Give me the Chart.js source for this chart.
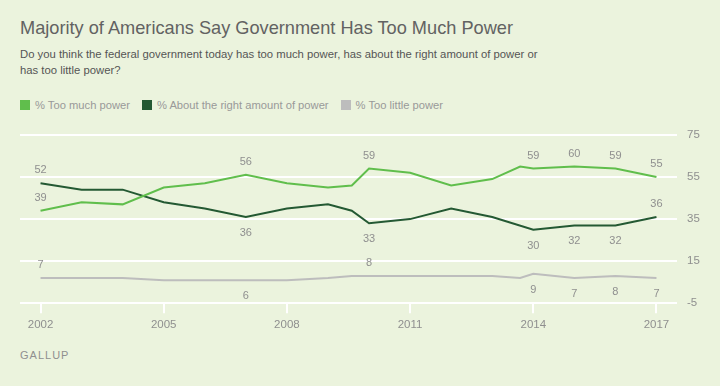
<!DOCTYPE html>
<html>
<head>
<meta charset="utf-8">
<script src="https://cdn.jsdelivr.net/npm/chart.js@4.4.0/dist/chart.umd.min.js"></script>
<style>
  html, body {
    margin: 0;
    padding: 0;
    background: #ebf3dd;
  }
  .page {
    position: relative;
    width: 720px;
    height: 386px;
    overflow: hidden;
    font-family: 'Liberation Sans', Arial, sans-serif;
  }
  .title {
    position: absolute;
    left: 20px;
    top: 17px;
    font-size: 18.2px;
    line-height: 22px;
    color: #626262;
    white-space: nowrap;
  }
  .subtitle {
    position: absolute;
    left: 20px;
    top: 47px;
    font-size: 11.3px;
    line-height: 15.5px;
    color: #555;
    white-space: nowrap;
  }
  .legend {
    position: absolute;
    left: 20px;
    top: 98px;
    display: flex;
    font-size: 11.2px;
    line-height: 14px;
    color: #999;
  }
  .legend-item {
    display: flex;
    align-items: center;
    margin-right: 12px;
    white-space: nowrap;
  }
  .legend-box {
    width: 10px;
    height: 10px;
    margin-right: 5px;
  }
  .source {
    position: absolute;
    left: 20px;
    top: 349px;
    font-size: 11px;
    line-height: 13px;
    letter-spacing: 1px;
    color: #8f8f8f;
  }
  #chart {
    position: absolute;
    left: 0;
    top: 118px;
  }
</style>
</head>
<body>
<div class="page">
  <div class="title">Majority of Americans Say Government Has Too Much Power</div>
  <div class="subtitle">Do you think the federal government today has too much power, has about the right amount of power or<br>has too little power?</div>
  <div class="legend" id="legend"></div>
  <canvas id="chart" width="720" height="216"></canvas>
  <div class="source">GALLUP</div>
</div>
<script>
// Données (sondages Gallup)
const years = [2002, 2003, 2004, 2005, 2006, 2007, 2008, 2009, 2009.58, 2010, 2011, 2012, 2013, 2013.68, 2014, 2015, 2016, 2017];
const tooMuch = [39, 43, 42, 50, 52, 56, 52, 50, 51, 59, 57, 51, 54, 60, 59, 60, 59, 55];
const rightAmount = [52, 49, 49, 43, 40, 36, 40, 42, 39, 33, 35, 40, 36, null, 30, 32, 32, 36];
const tooLittle = [7, 7, 7, 6, 6, 6, 6, 7, 8, 8, 8, 8, 8, 7, 9, 7, 8, 7];

const seriesNames = ['% Too much power', '% About the right amount of power', '% Too little power'];
const xTickYears = [2002, 2005, 2008, 2011, 2014, 2017];
const yTickValues = [-5, 15, 35, 55, 75];

// Années dont la valeur est affichée
const labelYears = [2002, 2007, 2010, 2014, 2015, 2016, 2017];

// Position des étiquettes (a = au-dessus, b = en dessous), une par année étiquetée
const labelSides = [
  ['a', 'a', 'a', 'a', 'a', 'a', 'a'],
  ['a', 'b', 'b', 'b', 'b', 'b', 'a'],
  ['a', 'b', 'a', 'b', 'b', 'b', 'b'],
];

const colors = ['#60be4c', '#245933', '#bdbdbd'];

const toPoints = (values) => years.map((year, i) => ({ x: year, y: values[i] }));

// Plugin pour écrire les valeurs à côté des points
const valueLabels = {
  id: 'valueLabels',
  afterDatasetsDraw(chart) {
    const { ctx } = chart;
    ctx.save();
    ctx.font = '11px "Liberation Sans", Arial, sans-serif';
    ctx.fillStyle = '#8f8f8f';
    ctx.textAlign = 'center';
    ctx.textBaseline = 'middle';
    chart.data.datasets.forEach((dataset, d) => {
      const meta = chart.getDatasetMeta(d);
      labelYears.forEach((year, k) => {
        const index = years.indexOf(year);
        const value = dataset.data[index].y;
        if (value === null) return;
        const point = meta.data[index];
        const offset = labelSides[d][k] === 'a' ? -13 : 16;
        ctx.fillText(String(value), point.x, point.y + offset);
      });
    });
    ctx.restore();
  },
};

const canvas = document.getElementById('chart');

const chart = new Chart(canvas, {
  type: 'line',
  data: {
    datasets: [tooMuch, rightAmount, tooLittle].map((values, i) => ({
      label: seriesNames[i],
      data: toPoints(values),
      borderColor: colors[i],
      backgroundColor: colors[i],
      borderWidth: 2,
      pointRadius: 0,
      tension: 0,
      spanGaps: true,
    })),
  },
  options: {
    responsive: false,
    animation: false,
    devicePixelRatio: 1,
    layout: {
      padding: { top: 10, left: 20, right: 0, bottom: 0 },
    },
    plugins: {
      legend: { display: false },
      tooltip: { enabled: false },
    },
    scales: {
      x: {
        type: 'linear',
        min: 2001.5,
        max: 2017.5,
        afterBuildTicks: (axis) => {
          axis.ticks = xTickYears.map((v) => ({ value: v }));
        },
        afterFit: (axis) => {
          axis.height = 30.7;
        },
        grid: {
          drawOnChartArea: false,
          drawTicks: true,
          tickLength: 10,
          color: '#ffffff',
          lineWidth: 2,
        },
        border: { display: false },
        ticks: {
          padding: 5,
          color: '#8f8f8f',
          font: { family: '"Liberation Sans", Arial, sans-serif', size: 11.5 },
          maxRotation: 0,
          callback: (value) => String(value),
        },
      },
      y: {
        position: 'right',
        min: -5,
        max: 75,
        afterBuildTicks: (axis) => {
          axis.ticks = yTickValues.map((v) => ({ value: v }));
        },
        afterFit: (axis) => {
          axis.width = 43;
        },
        grid: {
          color: '#ffffff',
          lineWidth: 2,
          drawTicks: false,
        },
        border: { display: false },
        ticks: {
          padding: 10,
          color: '#8f8f8f',
          font: { family: '"Liberation Sans", Arial, sans-serif', size: 11.5 },
        },
      },
    },
  },
  plugins: [valueLabels],
});

// Légende en HTML construite à partir des séries
const legend = document.getElementById('legend');
chart.data.datasets.forEach((dataset) => {
  const item = document.createElement('div');
  item.className = 'legend-item';
  const box = document.createElement('span');
  box.className = 'legend-box';
  box.style.background = dataset.borderColor;
  const text = document.createElement('span');
  text.textContent = dataset.label;
  item.appendChild(box);
  item.appendChild(text);
  legend.appendChild(item);
});
</script>
</body>
</html>
